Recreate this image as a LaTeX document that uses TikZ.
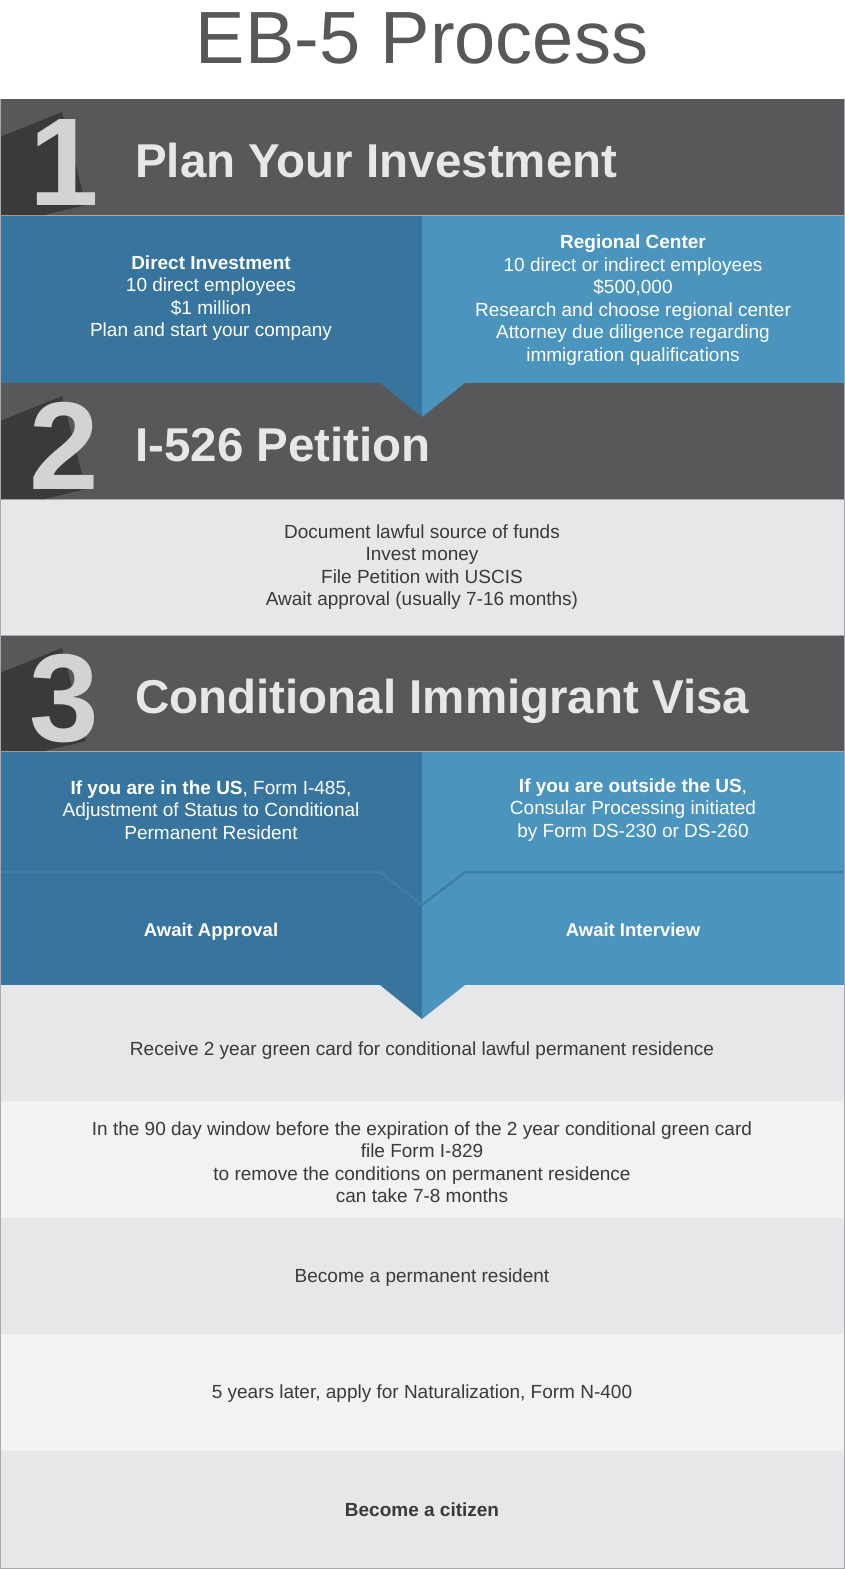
\documentclass[tikz,border=0pt]{standalone}
\usepackage{fontspec}
\setmainfont{Liberation Sans}
\definecolor{band}{HTML}{58585A}
\definecolor{numshadow}{HTML}{3A3A3C}
\definecolor{digit}{HTML}{D1D3D4}
\definecolor{head}{HTML}{E6E7E9}
\definecolor{dblue}{HTML}{37749E}
\definecolor{lblue}{HTML}{4A94BD}
\definecolor{vline}{HTML}{3F7FA7}
\definecolor{rowA}{HTML}{E6E7E9}
\definecolor{rowB}{HTML}{F2F2F2}
\definecolor{txt}{HTML}{3A3A3C}
\definecolor{framegray}{HTML}{A7A9AC}

\begin{document}
\begin{tikzpicture}[x=1pt,y=-1pt,declare function={w=845;m=422;},
  every node/.style={inner sep=0pt,align=center},
  body/.style={font=\fontsize{19}{22.5}\selectfont},
  num/.style={font=\fontsize{125}{125}\selectfont\bfseries,text=digit},
  head/.style={font=\fontsize{47.5}{47.5}\selectfont\bfseries,text=head}]
  \useasboundingbox (0,0) rectangle (845,1569);
  \fill[white] (0,0) rectangle (w,1569);
  \node[font=\fontsize{74}{74}\selectfont,text=band] (title) at (m,38) {EB-5 Process};
  \fill[dblue] (0,216) rectangle (m,383);
  \fill[lblue] (m,216) rectangle (w,383);
  \fill[rowA] (0,499) rectangle (w,635);
  \fill[dblue] (0,751) rectangle (m,985);
  \fill[lblue] (m,751) rectangle (w,985);
  \foreach \t/\b/\c in {985/1101/rowA,1101/1218/rowB,1218/1334/rowA,1334/1451/rowB,1451/1569/rowA}
    \fill[\c] (0,\t) rectangle (w,\b);
  \foreach \t/\n/\s in {99/1/Plan Your Investment,383/2/I-526 Petition,635/3/Conditional Immigrant Visa}{
    \fill[band] (0,\t) rectangle (w,\t+116);
    \draw[framegray] (0,\t+116) -- (w,\t+116);
    \fill[numshadow] (0,\t+38) -- (62,\t+13) -- (86,\t+106) -- (45,\t+116) -- (0,\t+116) -- cycle;
    \node[num,anchor=base] (n\n) at (64,\t+106) {\n};
    \node[head,anchor=base west] (h\n) at (135,\t+78) {\s};
  }
  \draw[framegray] (0,635) -- (w,635);
  \draw[vline,line width=2.5pt] (0,872) -- (380,872) -- (m,905) -- (465,872) -- (w,872);
  \foreach \y in {383,985}{
    \fill[dblue] (380,\y) -- (m,\y+34) -- (m,\y) -- cycle;
    \fill[lblue] (m,\y) -- (m,\y+34) -- (465,\y) -- cycle;
  }
  \node[body,text=white] (direct) at (211,298) {\textbf{Direct Investment}\\10 direct employees\\\$1 million\\Plan and start your company};
  \node[body,text=white] (regional) at (633,300) {\textbf{Regional Center}\\10 direct or indirect employees\\\$500,000\\Research and choose regional center\\Attorney due diligence regarding\\immigration qualifications};
  \node[body,text=txt] (petition) at (m,567) {Document lawful source of funds\\Invest money\\File Petition with USCIS\\Await approval (usually 7-16 months)};
  \node[body,text=white] (inside) at (211,810) {\textbf{If you are in the US}, Form I-485,\\Adjustment of Status to Conditional\\Permanent Resident};
  \node[body,text=white] (outside) at (633,810) {\textbf{If you are outside the US},\\Consular Processing initiated\\by Form DS-230 or DS-260};
  \node[body,text=white,font=\fontsize{18.5}{22.5}\selectfont\bfseries,anchor=base] (approval) at (211,936) {Await Approval};
  \node[body,text=white,font=\fontsize{18.5}{22.5}\selectfont\bfseries,anchor=base] (interview) at (633,936) {Await Interview};
  \node[body,text=txt] (greencard) at (m,1051) {Receive 2 year green card for conditional lawful permanent residence};
  \node[body,text=txt] (remove) at (m,1162) {In the 90 day window before the expiration of the 2 year conditional green card\\file Form I-829\\to remove the conditions on permanent residence\\can take 7-8 months};
  \node[body,text=txt] (resident) at (m,1278) {Become a permanent resident};
  \node[body,text=txt] (natural) at (m,1394) {5 years later, apply for Naturalization, Form N-400};
  \node[body,text=txt,font=\fontsize{19}{22.5}\selectfont\bfseries,anchor=base] (citizen) at (m,1516) {Become a citizen};
  \draw[framegray] (0.5,99) -- (0.5,1568.5) -- (844.5,1568.5) -- (844.5,99);
\end{tikzpicture}
\end{document}
